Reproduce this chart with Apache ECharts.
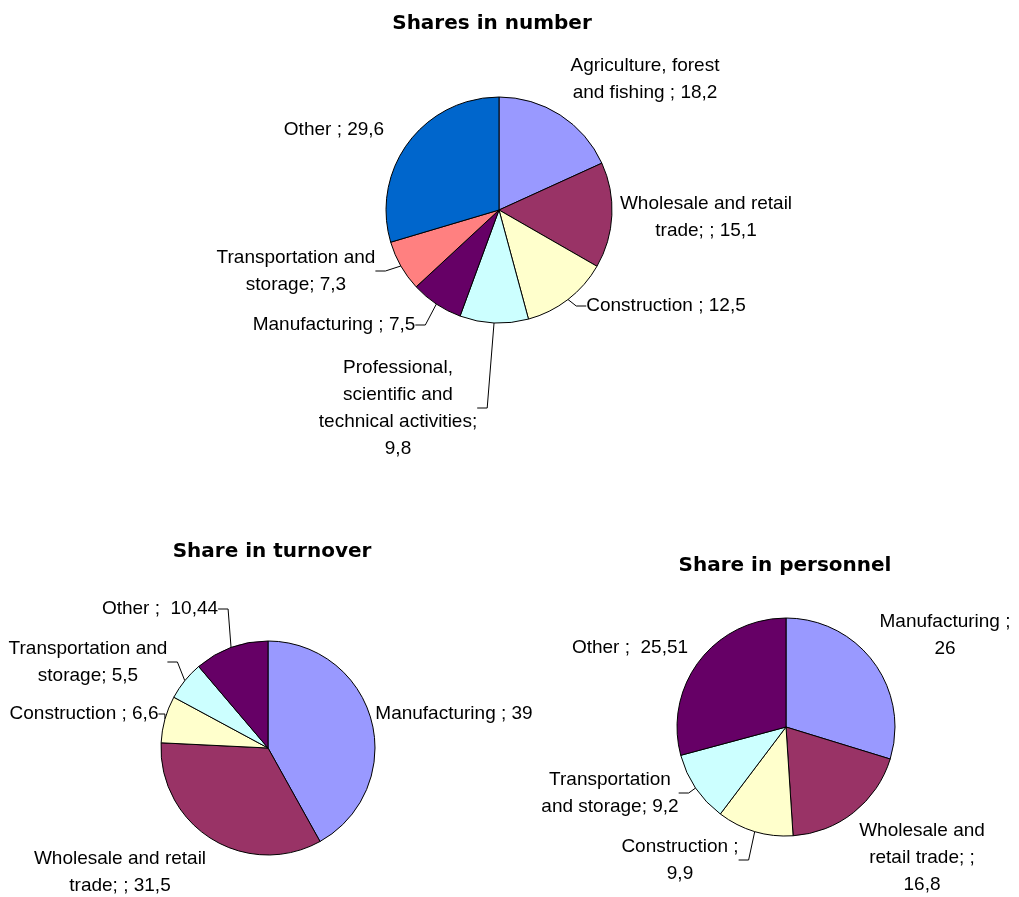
<!DOCTYPE html>
<html>
<head>
<meta charset="utf-8">
<title>Enterprise shares by sector</title>
<script src="https://cdn.jsdelivr.net/npm/echarts@6/dist/echarts.min.js"></script>
<style>
  html, body { margin: 0; padding: 0; background: #ffffff; }
  #chart { width: 1019px; height: 897px; }
</style>
</head>
<body>
<div id="chart"></div>
<script>
// ---- data ----
const numberCategories = ['Agriculture, forest and fishing', 'Wholesale and retail trade', 'Construction',
  'Professional, scientific and technical activities', 'Manufacturing', 'Transportation and storage', 'Other'];
const numberValues = [18.2, 15.1, 12.5, 9.8, 7.5, 7.3, 29.6];
const numberLabels = ['Agriculture, forest\nand fishing ; ', 'Wholesale and retail\ntrade; ; ', 'Construction ; ',
  'Professional,\nscientific and\ntechnical activities;\n', 'Manufacturing ; ', 'Transportation and\nstorage; ', 'Other ; '];

const turnoverCategories = ['Manufacturing', 'Wholesale and retail trade', 'Construction', 'Transportation and storage', 'Other'];
const turnoverValues = [39, 31.5, 6.6, 5.5, 10.44];
const turnoverLabels = ['Manufacturing ; ', 'Wholesale and retail\ntrade; ; ', 'Construction ; ', 'Transportation and\nstorage; ', 'Other ;  '];

const personnelCategories = ['Manufacturing', 'Wholesale and retail trade', 'Construction', 'Transportation and storage', 'Other'];
const personnelValues = [26, 16.8, 9.9, 9.2, 25.51];
const personnelLabels = ['Manufacturing ;\n', 'Wholesale and\nretail trade; ;\n', 'Construction ;\n', 'Transportation\nand storage; ', 'Other ;  '];

const chartTitles = ['Shares in number', 'Share in turnover', 'Share in personnel'];

// ---- styling / layout ----
const PURPLE = '#9999ff', PLUM = '#993366', CREAM = '#ffffcc', ICE = '#ccffff',
      GRAPE = '#660066', SALMON = '#ff8080', BLUE = '#0066cc';

const pies = [
  {
    title: chartTitles[0], titlePos: [487, 9],
    center: [499, 210], radius: 113,
    categories: numberCategories, values: numberValues, labels: numberLabels,
    colors: [PURPLE, PLUM, CREAM, ICE, GRAPE, SALMON, BLUE],
    // label centre offsets from the pie centre
    offsets: [[146, -131], [207, 7], [167, 96], [-101, 198], [-165, 115], [-203, 61], [-165, -80]],
    leader: [false, false, true, true, true, true, false]
  },
  {
    title: chartTitles[1], titlePos: [267, 537],
    center: [268, 748], radius: 107,
    categories: turnoverCategories, values: turnoverValues, labels: turnoverLabels,
    colors: [PURPLE, PLUM, CREAM, ICE, GRAPE],
    offsets: [[186, -34], [-148, 124], [-184, -34], [-180, -86], [-108, -139]],
    leader: [false, false, true, true, true]
  },
  {
    title: chartTitles[2], titlePos: [780, 551],
    center: [786, 727], radius: 109,
    categories: personnelCategories, values: personnelValues, labels: personnelLabels,
    colors: [PURPLE, PLUM, CREAM, ICE, GRAPE],
    offsets: [[159, -92], [136, 131], [-106, 133], [-176, 66], [-156, -79]],
    leader: [false, false, true, true, false]
  }
];

const LABEL_FONT = '"Liberation Sans", Arial, sans-serif';
const TITLE_FONT = '"DejaVu Sans", Verdana, sans-serif';

function fmt(v) { return String(v).replace('.', ','); }

const chart = echarts.init(document.getElementById('chart'), null, { renderer: 'canvas' });

const option = {
  backgroundColor: '#ffffff',
  animation: false,
  title: pies.map(p => ({
    text: p.title,
    left: p.titlePos[0],
    top: p.titlePos[1],
    textAlign: 'center',
    textStyle: { fontFamily: TITLE_FONT, fontWeight: 'bold', fontSize: 20, color: '#000' }
  })),
  series: pies.map((p) => ({
    type: 'pie',
    center: p.center,
    radius: p.radius,
    startAngle: 90,
    clockwise: true,
    avoidLabelOverlap: false,
    silent: true,
    itemStyle: { borderColor: '#000', borderWidth: 1 },
    label: {
      show: true,
      position: 'outside',
      fontFamily: LABEL_FONT,
      fontSize: 19,
      lineHeight: 27,
      color: '#000',
      align: 'center',
      formatter: (prm) => p.labels[prm.dataIndex] + fmt(prm.value)
    },
    labelLine: { show: true, length: 10, length2: 10, lineStyle: { color: '#000', width: 1 } },
    labelLayout: (prm) => {
      const off = p.offsets[prm.dataIndex];
      return { x: p.center[0] + off[0], y: p.center[1] + off[1], align: 'center', verticalAlign: 'middle' };
    },
    data: p.categories.map((name, i) => ({
      name: name,
      value: p.values[i],
      itemStyle: { color: p.colors[i] },
      labelLine: { show: p.leader[i] }
    }))
  }))
};

chart.setOption(option);
</script>
</body>
</html>
